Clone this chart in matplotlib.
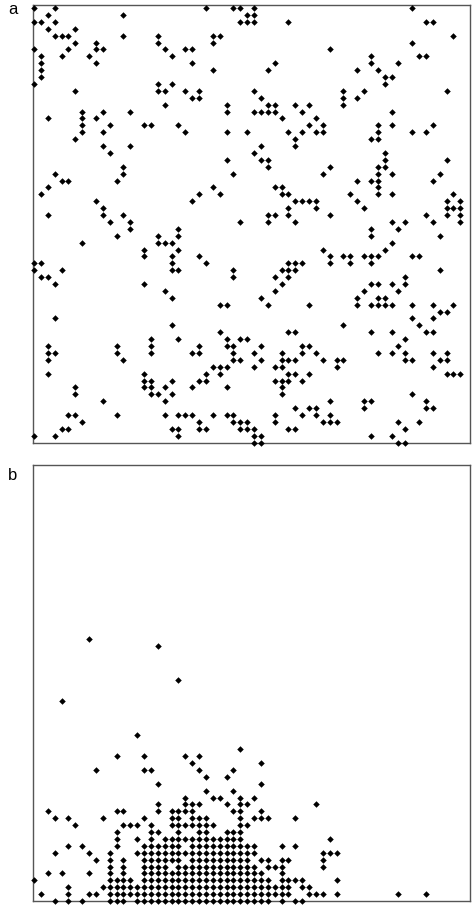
import matplotlib
matplotlib.use("Agg")
import matplotlib.pyplot as plt

# lattice occupied cells
# panel a: row index counted from the top, list of occupied columns
a_rows = {
    0: [0, 3, 25, 29, 30, 32, 55],
    1: [2, 13, 31, 32],
    2: [0, 1, 3, 30, 31, 32, 37, 57, 58],
    3: [2, 6],
    4: [3, 4, 5, 13, 18, 26, 27, 61],
    5: [6, 9, 18, 26, 55],
    6: [0, 5, 9, 10, 19, 22, 23, 43],
    7: [1, 4, 8, 20, 49, 56, 57],
    8: [1, 9, 23, 35, 49, 53],
    9: [1, 26, 34, 47, 50],
    10: [1, 51, 52],
    11: [0, 18, 20, 51],
    12: [6, 18, 19, 22, 24, 32, 45, 48, 60],
    13: [23, 24, 33, 45, 47],
    14: [19, 28, 34, 35, 38, 40, 45],
    15: [7, 10, 14, 28, 32, 33, 34, 35, 39, 52],
    16: [2, 7, 9, 36, 41],
    17: [7, 11, 16, 17, 21, 40, 42, 50, 52, 58],
    18: [7, 10, 22, 28, 31, 37, 39, 41, 42, 50, 55, 57],
    19: [6, 38, 49, 50],
    20: [10, 14, 33, 38],
    21: [11, 32, 51],
    22: [28, 33, 34, 51, 60],
    23: [13, 34, 43, 50, 51],
    24: [3, 13, 29, 42, 50, 52, 59],
    25: [4, 5, 12, 47, 49, 50, 58],
    26: [2, 26, 35, 36, 50],
    27: [1, 24, 27, 36, 37, 46, 50, 52, 61],
    28: [9, 23, 38, 39, 40, 41, 47, 60, 62],
    29: [10, 37, 41, 48, 60, 61, 62],
    30: [2, 10, 13, 34, 35, 37, 43, 57, 60, 62],
    31: [11, 14, 30, 34, 38, 52, 54, 58, 62],
    32: [14, 21, 49, 53],
    33: [12, 18, 21, 49, 59],
    34: [7, 18, 19, 20, 52],
    35: [16, 21, 42, 51],
    36: [16, 20, 24, 43, 45, 46, 48, 49, 50, 55, 56],
    37: [0, 1, 20, 25, 37, 38, 39, 43, 46, 49],
    38: [0, 4, 20, 21, 29, 36, 37, 38, 59],
    39: [1, 2, 29, 35, 37, 54],
    40: [3, 16, 36, 49, 50, 52, 54],
    41: [19, 35, 48, 53],
    42: [20, 33, 47, 50, 51],
    43: [27, 28, 34, 40, 47, 49, 50, 51, 52, 55, 58, 61],
    44: [59, 60],
    45: [3, 55, 58],
    46: [20, 45, 56],
    47: [27, 37, 38, 49, 52, 57, 58],
    48: [17, 21, 28, 30, 31, 54],
    49: [2, 12, 17, 24, 28, 29, 33, 39, 40, 53],
    50: [2, 3, 12, 17, 23, 24, 29, 32, 36, 39, 41, 50, 52, 54, 58, 60],
    51: [2, 13, 29, 30, 33, 36, 37, 38, 42, 44, 45, 54, 55, 59, 60],
    52: [26, 27, 28, 32, 35, 36, 44, 58],
    53: [2, 16, 25, 27, 37, 38, 40, 60, 61, 62],
    54: [16, 17, 20, 24, 25, 35, 36, 37, 39],
    55: [6, 16, 17, 19, 23, 28, 36],
    56: [6, 17, 18, 20, 36, 55],
    57: [10, 19, 43, 48, 49, 57],
    58: [38, 40, 41, 48, 57, 58],
    59: [5, 6, 12, 19, 21, 22, 23, 26, 28, 29, 35, 39, 41, 43],
    60: [7, 24, 29, 30, 31, 35, 42, 43, 44, 53, 56],
    61: [4, 5, 20, 21, 24, 25, 30, 31, 32, 37, 38, 54],
    62: [0, 3, 21, 32, 33, 49, 52],
    63: [32, 33, 53, 54],
}

# panel b: row index counted from the bottom
b_rows = {
    38: [8],
    37: [18],
    32: [21],
    29: [4],
    24: [15],
    22: [30],
    21: [12, 16, 22, 24],
    20: [23, 33],
    19: [9, 16, 17, 24, 29],
    18: [25, 28],
    17: [18, 33],
    16: [25, 29],
    15: [22, 26, 27, 30, 32],
    14: [18, 22, 23, 24, 28, 30, 31, 41],
    13: [2, 12, 13, 18, 20, 21, 22, 23, 29, 30, 33],
    12: [3, 5, 10, 16, 20, 21, 23, 24, 25, 30, 32, 33, 34, 38],
    11: [6, 13, 14, 15, 17, 20, 21, 22, 23, 24, 25, 26, 30, 31],
    10: [12, 17, 18, 21, 24, 25, 28, 29, 30],
    9: [12, 15, 17, 19, 20, 21, 22, 23, 24, 25, 26, 27, 28, 29, 30, 43],
    8: [5, 7, 12, 16, 17, 18, 19, 20, 21, 23, 24, 25, 26, 27, 28, 29, 30,
        31, 32, 36, 38],
    7: [3, 8, 11, 15, 16, 17, 18, 19, 20, 21, 22, 23, 24, 25, 26, 27, 28,
        29, 30, 31, 32, 42, 43, 44],
    6: [9, 11, 13, 16, 17, 18, 19, 20, 21, 23, 24, 25, 26, 27, 28, 29, 30,
        31, 33, 34, 36, 37, 42],
    5: [11, 13, 16, 17, 18, 19, 21, 22, 23, 24, 25, 26, 27, 28, 29, 30, 31,
        32, 34, 35, 36, 42],
    4: [2, 4, 8, 11, 13, 16, 17, 18, 19, 20, 21, 22, 23, 24, 25, 26, 27, 28,
        29, 30, 31, 32, 33, 36],
    3: [0, 11, 12, 13, 14, 16, 17, 18, 19, 20, 21, 22, 23, 24, 25, 26, 27,
        28, 29, 30, 31, 32, 33, 34, 36, 37, 38, 39, 44],
    2: [5, 10, 11, 12, 13, 14, 15, 16, 17, 18, 19, 20, 21, 22, 23, 24, 25,
        26, 27, 28, 29, 30, 31, 32, 33, 34, 35, 36, 37, 39, 40],
    1: [1, 5, 8, 9, 11, 12, 13, 14, 15, 16, 17, 18, 19, 20, 21, 22, 23, 24,
        25, 26, 27, 28, 29, 30, 31, 32, 33, 34, 35, 36, 37, 40, 41, 42, 44,
        53, 57],
    0: [3, 5, 7, 11, 12, 13, 15, 16, 17, 18, 19, 20, 21, 22, 23, 24, 25, 26,
        27, 28, 29, 30, 31, 32, 33, 34, 36, 38, 39],
}

W, H = 474, 908


def to_xy(rows, from_top):
    xs, ys = [], []
    for r, cols in rows.items():
        for c in cols:
            xs.append(c)
            ys.append(63 - r if from_top else r)
    return xs, ys


fig = plt.figure(figsize=(W / 100, H / 100), dpi=100)

ax_a = fig.add_axes([33 / W, 1 - 443 / H, 437 / W, 438 / H])
ax_b = fig.add_axes([33 / W, 1 - 901 / H, 437 / W, 436 / H])

for ax, rows, top, ylim in [
    (ax_a, a_rows, True, (-0.05, 63.45)),
    (ax_b, b_rows, False, (0, 63.2)),
]:
    xs, ys = to_xy(rows, top)
    ax.scatter(xs, ys, marker="D", s=11, color="black", linewidths=0,
               clip_on=False, zorder=3)
    ax.set_xlim(-0.15, 63.4)
    ax.set_ylim(*ylim)
    ax.set_xticks([])
    ax.set_yticks([])
    for sp in ax.spines.values():
        sp.set_color("#555555")
        sp.set_linewidth(1.0)

fig.text(8 / W, 1 - 14 / H, "a", fontsize=12, family="Liberation Sans")
fig.text(8 / W, 1 - 480 / H, "b", fontsize=12, family="Liberation Sans")

fig.savefig("out.png", dpi=100)
